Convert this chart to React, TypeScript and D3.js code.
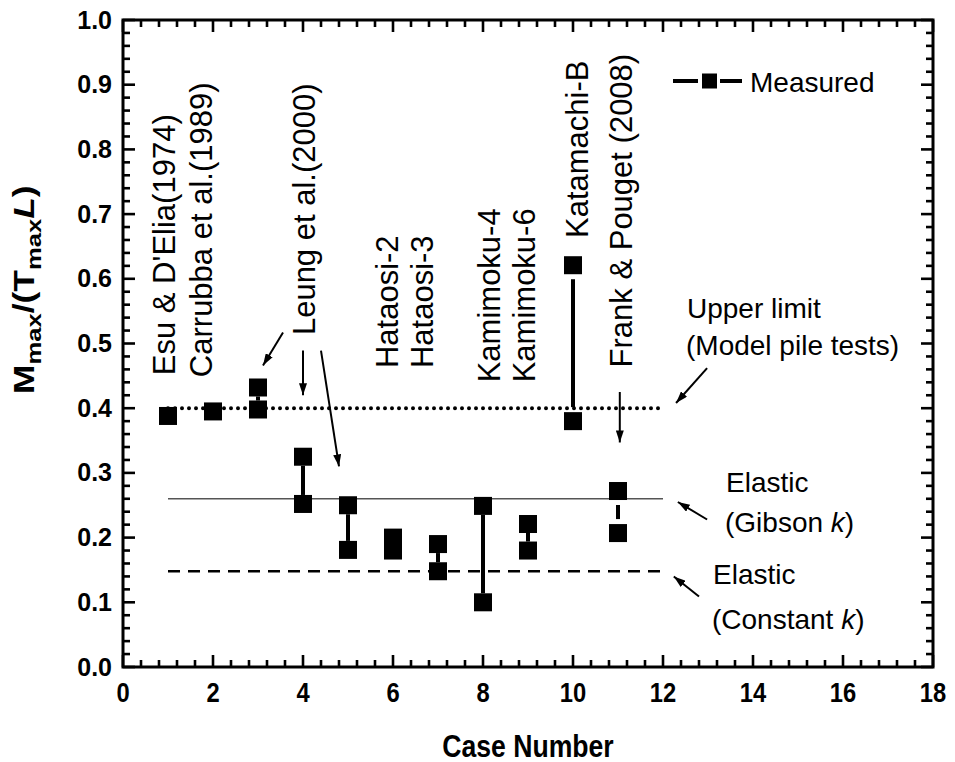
import React from 'react';
import * as d3 from 'd3';

// ---- data ----
const caseNumbers = [1, 2, 3, 4, 5, 6, 7, 8, 9, 10, 11];
// upper and lower measured ratio per case (null = single measurement)
const ratioHigh = [0.388, 0.395, 0.432, 0.325, 0.25, 0.2, 0.19, 0.249, 0.221, 0.621, 0.272];
const ratioLow: (number | null)[] = [null, null, 0.398, 0.252, 0.181, 0.18, 0.148, 0.1, 0.18, 0.38, 0.207];

const upperLimitRatio = 0.4;
const gibsonRatio = 0.26;
const constantRatio = 0.148;
const refRange = [1, 12];

const xMajorTicks = d3.range(0, 18.001, 2);
const xMinorTicks = d3.range(0, 18.001, 0.4).filter((v) => Math.abs(v / 2 - Math.round(v / 2)) > 1e-6);
const yMajorTicks = d3.range(0, 1.0001, 0.1);
const yMinorTicks = d3.range(0, 1.0001, 0.02).filter((v) => Math.abs(v * 10 - Math.round(v * 10)) > 1e-6);

const studyNames = [
  'Esu & D\'Elia(1974)',
  'Carrubba et al.(1989)',
  'Leung et al.(2000)',
  'Hataosi-2',
  'Hataosi-3',
  'Kamimoku-4',
  'Kamimoku-6',
  'Katamachi-B',
  'Frank & Pouget (2008)',
];

// ---- layout ----
const W = 955;
const H = 762;
const M = { left: 123, right: 933, top: 20, bottom: 667 };
const FONT = '"Liberation Sans", Arial, Helvetica, sans-serif';

const x = d3.scaleLinear().domain([0, 18]).range([M.left, M.right]);
const y = d3.scaleLinear().domain([0, 1]).range([M.bottom, M.top]);

// anchor of each rotated study label: [x baseline, y start] in data units
const studyAnchors: [number, number][] = [
  [1.16, 0.451],
  [1.98, 0.448],
  [4.27, 0.513],
  [6.11, 0.462],
  [6.89, 0.462],
  [8.38, 0.44],
  [9.16, 0.44],
  [10.33, 0.663],
  [11.31, 0.463],
];

// arrows: [x1, y1, x2, y2] in data units (tip at x2, y2)
const arrows: [number, number, number, number][] = [
  [3.556, 0.517, 3.111, 0.466],
  [4.0, 0.489, 4.0, 0.42],
  [4.4, 0.489, 4.8, 0.31],
  [11.04, 0.425, 11.04, 0.347],
  [12.98, 0.462, 12.29, 0.408],
  [12.98, 0.228, 12.33, 0.255],
  [12.8, 0.109, 12.24, 0.14],
];

const SQ = 18;
const GAP = 5;
// cases whose connector is drawn clear of the symbols
const gappedCases = [10, 11];

export default function App() {
  const fmt = d3.format('.1f');
  const segs: { cx: number; y1: number; y2: number }[] = [];
  caseNumbers.forEach((c, i) => {
    const lo = ratioLow[i];
    if (lo == null) return;
    const top = y(ratioHigh[i]) + SQ / 2;
    const bot = y(lo) - SQ / 2;
    if (bot - top <= 0) return;
    const g = gappedCases.includes(c) ? GAP : 0;
    segs.push({ cx: x(c), y1: top + g, y2: bot - g });
  });

  const points: { cx: number; cy: number }[] = [];
  caseNumbers.forEach((c, i) => {
    points.push({ cx: x(c), cy: y(ratioHigh[i]) });
    const lo = ratioLow[i];
    if (lo != null) points.push({ cx: x(c), cy: y(lo) });
  });

  return (
    <svg
      width={W}
      height={H}
      style={{ position: 'absolute', left: 0, top: 0, background: '#fff' }}
      fontFamily={FONT}
    >
      <defs>
        <marker
          id="head"
          viewBox="0 0 12 8"
          refX="12"
          refY="4"
          markerWidth="12"
          markerHeight="8"
          markerUnits="userSpaceOnUse"
          orient="auto"
        >
          <path d="M0,0 L12,4 L0,8 Z" fill="#000" />
        </marker>
      </defs>
      <rect width={W} height={H} fill="#fff" />

      {/* reference lines */}
      <line
        x1={x(refRange[0])}
        x2={x(refRange[1])}
        y1={y(gibsonRatio)}
        y2={y(gibsonRatio)}
        stroke="#555"
        strokeWidth={1.4}
      />
      <line
        x1={x(refRange[0])}
        x2={x(refRange[1])}
        y1={y(constantRatio)}
        y2={y(constantRatio)}
        stroke="#000"
        strokeWidth={2.3}
        strokeDasharray="12 8"
      />
      <line
        x1={x(refRange[0])}
        x2={x(refRange[1])}
        y1={y(upperLimitRatio)}
        y2={y(upperLimitRatio)}
        stroke="#000"
        strokeWidth={4}
        strokeLinecap="round"
        strokeDasharray="0 7"
      />

      {/* measured ranges */}
      {segs.map((s, i) => (
        <line key={'s' + i} x1={s.cx} x2={s.cx} y1={s.y1} y2={s.y2} stroke="#000" strokeWidth={4} />
      ))}
      {points.map((p, i) => (
        <rect key={'p' + i} x={p.cx - SQ / 2} y={p.cy - SQ / 2} width={SQ} height={SQ} fill="#000" />
      ))}

      {/* arrows */}
      {arrows.map((a, i) => (
        <line
          key={'a' + i}
          x1={x(a[0])}
          y1={y(a[1])}
          x2={x(a[2])}
          y2={y(a[3])}
          stroke="#000"
          strokeWidth={2}
          markerEnd="url(#head)"
        />
      ))}

      {/* study labels */}
      {studyNames.map((name, i) => (
        <text
          key={'l' + i}
          transform={`translate(${x(studyAnchors[i][0])},${y(studyAnchors[i][1])}) rotate(-90)`}
          fontSize={31}
          fill="#000"
        >
          {name}
        </text>
      ))}

      {/* annotations */}
      <g fontSize={28} fill="#000">
        <text x={687} y={318}>Upper limit</text>
        <text x={686} y={355}>(Model pile tests)</text>
        <text x={726} y={492}>Elastic</text>
        <text x={725} y={532}>
          (Gibson <tspan fontStyle="italic">k</tspan>)
        </text>
        <text x={713} y={584}>Elastic</text>
        <text x={712} y={629}>
          (Constant <tspan fontStyle="italic">k</tspan>)
        </text>
      </g>

      {/* legend */}
      <line x1={673} x2={698} y1={81} y2={81} stroke="#000" strokeWidth={4} />
      <line x1={720} x2={742} y1={81} y2={81} stroke="#000" strokeWidth={4} />
      <rect x={702} y={73.5} width={15} height={15} fill="#000" />
      <text x={750} y={92} fontSize={28}>Measured</text>

      {/* axes frame and ticks */}
      <g stroke="#000" strokeWidth={2.6}>
        {xMajorTicks.map((v) => (
          <g key={'xm' + v}>
            <line x1={x(v)} x2={x(v)} y1={M.bottom} y2={M.bottom - 12} />
            <line x1={x(v)} x2={x(v)} y1={M.top} y2={M.top + 12} />
          </g>
        ))}
        {xMinorTicks.map((v) => (
          <g key={'xn' + v}>
            <line x1={x(v)} x2={x(v)} y1={M.bottom} y2={M.bottom - 7} />
            <line x1={x(v)} x2={x(v)} y1={M.top} y2={M.top + 7} />
          </g>
        ))}
        {yMajorTicks.map((v) => (
          <g key={'ym' + v}>
            <line x1={M.left} x2={M.left + 12} y1={y(v)} y2={y(v)} />
            <line x1={M.right} x2={M.right - 12} y1={y(v)} y2={y(v)} />
          </g>
        ))}
        {yMinorTicks.map((v) => (
          <g key={'yn' + v}>
            <line x1={M.left} x2={M.left + 7} y1={y(v)} y2={y(v)} />
            <line x1={M.right} x2={M.right - 7} y1={y(v)} y2={y(v)} />
          </g>
        ))}
      </g>
      <rect
        x={M.left}
        y={M.top}
        width={M.right - M.left}
        height={M.bottom - M.top}
        fill="none"
        stroke="#000"
        strokeWidth={3}
      />

      {/* tick labels */}
      <g fontSize={25} fontWeight="bold" fill="#000">
        {xMajorTicks.map((v) => (
          <text
            key={'xl' + v}
            transform={`translate(${x(v)},702) scale(0.95,1.1)`}
            textAnchor="middle"
          >
            {d3.format('d')(v)}
          </text>
        ))}
        {yMajorTicks.map((v) => (
          <text key={'yl' + v} x={112} y={y(v) + 8.5} textAnchor="end">
            {fmt(v)}
          </text>
        ))}
      </g>

      {/* axis titles */}
      <text
        transform={`translate(${(M.left + M.right) / 2},757) scale(0.95,1.1)`}
        textAnchor="middle"
        fontSize={28}
        fontWeight="bold"
      >
        Case Number
      </text>
      <text
        transform="translate(34,394) rotate(-90) scale(1.22,1)"
        fontSize={29}
        fontWeight="bold"
      >
        M<tspan fontSize={21} dy={7}>max</tspan>
        <tspan dy={-7}>/(T</tspan>
        <tspan fontSize={21} dy={7}>max</tspan>
        <tspan dy={-7} fontStyle="italic">L</tspan>
        <tspan>)</tspan>
      </text>
    </svg>
  );
}
